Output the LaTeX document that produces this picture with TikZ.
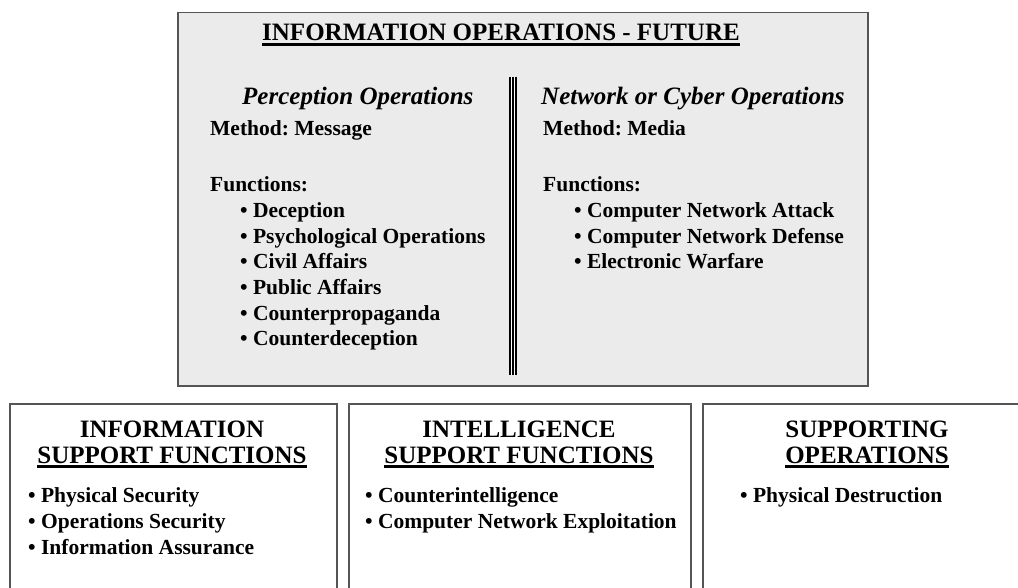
\documentclass[tikz,border=0pt]{standalone}
\usepackage{fontspec}
\setmainfont{Liberation Serif}
\frenchspacing

\definecolor{panelgray}{HTML}{EBEBEB}
\definecolor{edgegray}{HTML}{555555}

% underlined heading with a thick rule
\newcommand{\hdline}[1]{\leavevmode\setbox0=\hbox{#1}\rlap{\copy0}\rule[-5pt]{\wd0}{2.6pt}}

\begin{document}
\begin{tikzpicture}[x=1pt,y=-1pt,
    bodytext/.style={anchor=base west, inner sep=0pt, font=\bfseries\fontsize{21.5}{26}\selectfont},
    headtext/.style={anchor=base, inner sep=0pt, font=\bfseries\fontsize{25}{29}\selectfont},
    colhead/.style={anchor=base west, inner sep=0pt, font=\bfseries\itshape\fontsize{25}{29}\selectfont}]

      \path[use as bounding box] (0,0) rectangle (1018,588);
      \clip (0,0) rectangle (1018,588);

      % boxes
      \begin{scope}[every node/.style={draw=edgegray, line width=1.5pt, anchor=north west, inner sep=0pt}]
        \node[fill=panelgray, minimum width=690pt, minimum height=373pt] (io) at (177,12) {};
        \node[minimum width=327pt, minimum height=220pt] (isf)  at (9,403)   {};
        \node[minimum width=342pt, minimum height=220pt] (intel) at (348,403) {};
        \node[minimum width=330pt, minimum height=220pt] (supp) at (702,403) {};
      \end{scope}

      % divider
      \coordinate (dtop) at (513,77);
      \coordinate (dbot) at (513,375);
      \draw[line width=8.3pt] (dtop) -- (dbot);
      \draw[white, line width=1.3pt] ([xshift=-1.6pt]dtop) -- ([xshift=-1.6pt]dbot);
      \draw[white, line width=1.3pt] ([xshift=1.6pt]dtop) -- ([xshift=1.6pt]dbot);

      % top panel
      \node[headtext] (title) at (501,41) {\hdline{INFORMATION OPERATIONS - FUTURE}};

      \node[colhead]  (percep) at (242,105) {Perception Operations};
      \node[bodytext] (pmeth)  at (210,136) {Method: Message};
      \node[bodytext] (pfunc)  at (210,192) {Functions:};
      \foreach \t [count=\i] in {Deception, Psychological Operations, Civil Affairs,
                                 Public Affairs, Counterpropaganda, Counterdeception}
        \node[bodytext] (pf\i) at (240,192+25.6*\i) {\textbullet\ \t};

      \node[colhead]  (cyber) at (541,105) {Network or Cyber Operations};
      \node[bodytext] (nmeth) at (543,136) {Method: Media};
      \node[bodytext] (nfunc) at (543,192) {Functions:};
      \foreach \t [count=\i] in {Computer Network Attack, Computer Network Defense,
                                 Electronic Warfare}
        \node[bodytext] (nf\i) at (574,192+25.6*\i) {\textbullet\ \t};

      % bottom boxes
      \node[headtext] (isfa) at (172,437) {INFORMATION};
      \node[headtext] (isfb) at (172,463) {\hdline{SUPPORT FUNCTIONS}};
      \node[bodytext] (isf1) at (28,502) {\textbullet\ Physical Security};
      \node[bodytext] (isf2) at (28,528) {\textbullet\ Operations Security};
      \node[bodytext] (isf3) at (28,554) {\textbullet\ Information Assurance};

      \node[headtext] (inta) at (519,437) {INTELLIGENCE};
      \node[headtext] (intb) at (519,463) {\hdline{SUPPORT FUNCTIONS}};
      \node[bodytext] (int1) at (365,502) {\textbullet\ Counterintelligence};
      \node[bodytext] (int2) at (365,528) {\textbullet\ Computer Network Exploitation};

      \node[headtext] (suppa) at (867,437) {SUPPORTING};
      \node[headtext] (suppb) at (867,463) {\hdline{OPERATIONS}};
      \node[bodytext] (supp1) at (740,502) {\textbullet\ Physical Destruction};

    \end{tikzpicture}
\end{document}
